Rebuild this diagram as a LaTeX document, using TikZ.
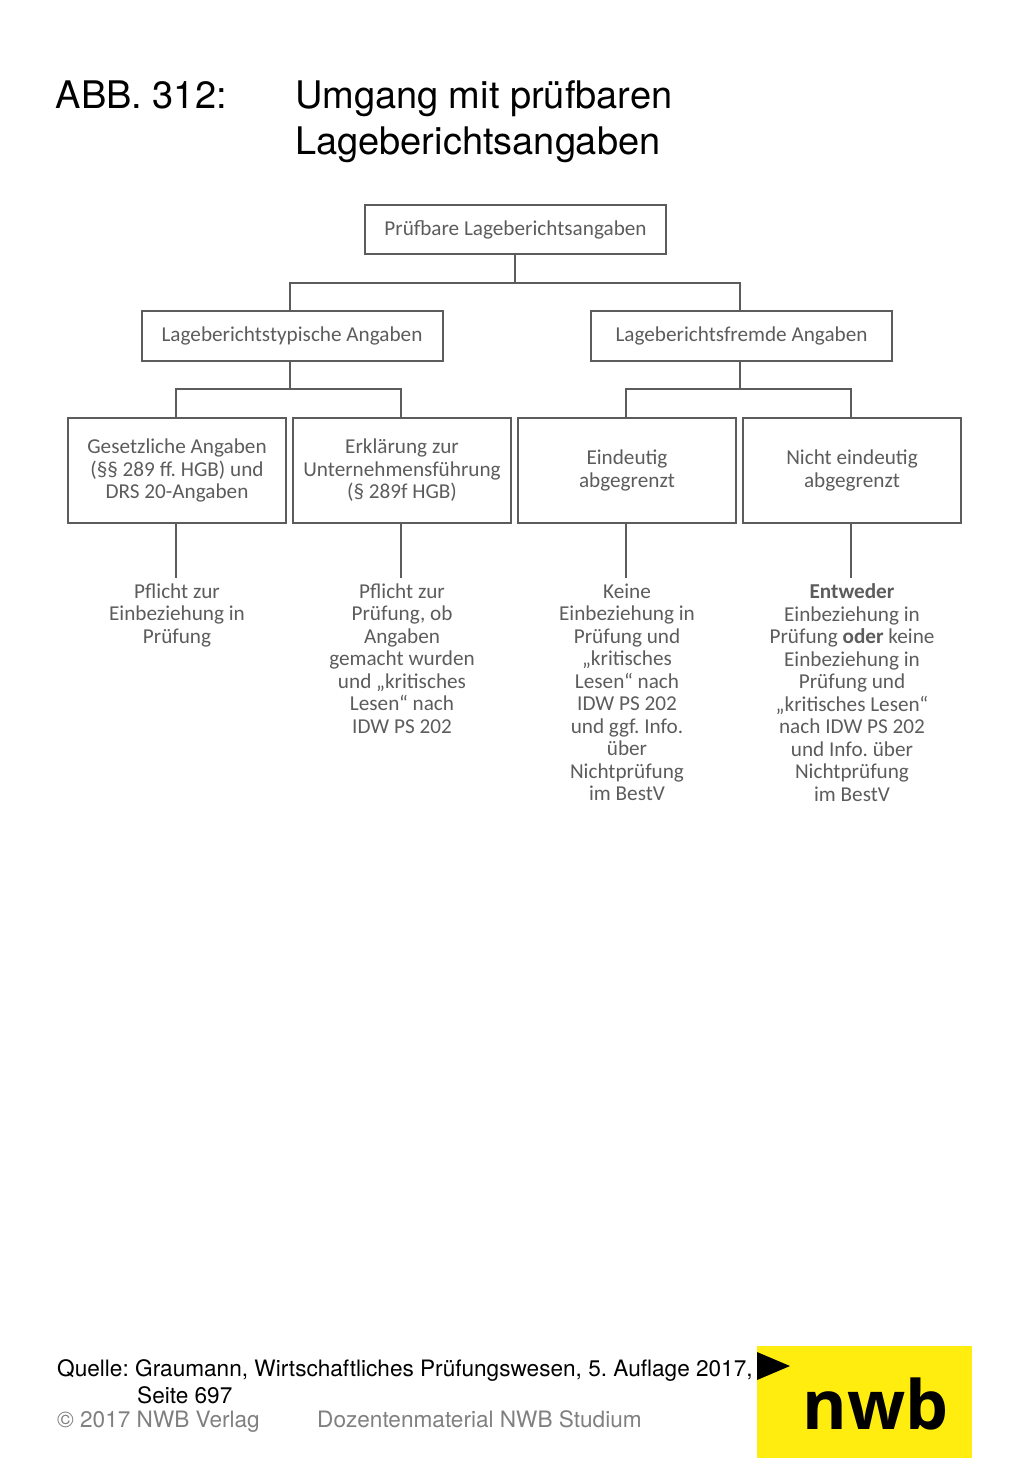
\documentclass[tikz,border=0pt]{standalone}
\usepackage{fontspec}
\usepackage{tikz}
\setmainfont{TeX Gyre Heros}
\newfontfamily\boxfont{Carlito}
\newfontfamily\logofont{Open Sans}
\usetikzlibrary{calc, positioning}
\frenchspacing
\definecolor{nwbyellow}{RGB}{255,237,16}
\definecolor{chartgray}{gray}{0.36}
\tikzset{
	heading/.style={anchor=base west, inner sep=0pt, font=\fontsize{38}{46}\selectfont},
	source/.style={anchor=base west, inner sep=0pt, font=\fontsize{22.6}{27}\selectfont},
	smallbox/.style={draw=chartgray, line width=2pt, text=chartgray, align=center, inner sep=0pt,
		minimum height=49.5, minimum width=301, font=\boxfont\fontsize{21.2}{22.5}\selectfont},
	bigbox/.style={smallbox, minimum height=105, minimum width=218},
	note/.style={text=chartgray, align=center, inner sep=0pt, anchor=north,
		font=\boxfont\fontsize{21.2}{22.5}\selectfont},
	link/.style={draw=chartgray, line width=2pt}
}
\begin{document}
\begin{tikzpicture}[x=1pt,y=-1pt]

		\useasboundingbox (0,0) rectangle (1024,1479);

		%heading
		\node[heading] (abb) at (55.5,109) {ABB. 312:};
		\node[heading] (title) at (295,109) {Umgang mit prüfbaren};
		\node[heading] (titlesecond) at (295,155) {Lageberichtsangaben};

		%boxes of the tree
		\node[smallbox] (root) at (515.5,229.5) {Prüfbare Lageberichtsangaben};
		\node[smallbox] (typical) at (292,336) {Lageberichtstypische Angaben};
		\node[smallbox] (foreign) at (741.5,336) {Lageberichtsfremde Angaben};

		\node[bigbox] (legal) at (177,470.5) {Gesetzliche Angaben\\(§§ 289 ff. HGB) und\\DRS 20-Angaben};
		\node[bigbox] (declaration) at (402,470.5) {Erklärung zur\\Unternehmensführung\\(§ 289f HGB)};
		\node[bigbox] (clear) at (627,470.5) {Eindeutig\\abgegrenzt};
		\node[bigbox] (unclear) at (852,470.5) {Nicht eindeutig\\abgegrenzt};

		%texts below the boxes
		\node[note] (legalnote) at (177,583.5) {Pflicht zur\\Einbeziehung in\\Prüfung};
		\node[note] (declarationnote) at (402,583.5) {Pflicht zur\\Prüfung, ob\\Angaben\\gemacht wurden\\und „kritisches\\Lesen“ nach\\IDW PS 202};
		\node[note] (clearnote) at (627,583.5) {Keine\\Einbeziehung in\\Prüfung und\\„kritisches\\Lesen“ nach\\IDW PS 202\\und ggf. Info.\\über\\Nichtprüfung\\im BestV};
		\node[note] (unclearnote) at (852,583.5) {\textbf{Entweder}\\Einbeziehung in\\Prüfung \textbf{oder} keine\\Einbeziehung in\\Prüfung und\\„kritisches Lesen“\\nach IDW PS 202\\und Info. über\\Nichtprüfung\\im BestV};

		%connectors
		\draw[link] ([xshift=-1]root.south) |- ($(root.south)!0.5!(root.south |- typical.north)$) -| ([xshift=-2.5]typical.north);
		\draw[link] ([xshift=-1]root.south) |- ($(root.south)!0.5!(root.south |- foreign.north)$) -| ([xshift=-2]foreign.north);
		\draw[link] ([xshift=-2.5]typical.south) |- ($(typical.south)!0.5!(typical.south |- legal.north)$) -| ([xshift=-1.5]legal.north);
		\draw[link] ([xshift=-2.5]typical.south) |- ($(typical.south)!0.5!(typical.south |- declaration.north)$) -| ([xshift=-1.5]declaration.north);
		\draw[link] ([xshift=-2]foreign.south) |- ($(foreign.south)!0.5!(foreign.south |- clear.north)$) -| ([xshift=-1.5]clear.north);
		\draw[link] ([xshift=-2]foreign.south) |- ($(foreign.south)!0.5!(foreign.south |- unclear.north)$) -| ([xshift=-1.5]unclear.north);

		\draw[link] ([xshift=-1.5]legal.south) -- ([xshift=-1.5,yshift=6]legalnote.north);
		\draw[link] ([xshift=-1.5]declaration.south) -- ([xshift=-1.5,yshift=6]declarationnote.north);
		\draw[link] ([xshift=-1.5]clear.south) -- ([xshift=-1.5,yshift=6]clearnote.north);
		\draw[link] ([xshift=-1.5]unclear.south) -- ([xshift=-1.5,yshift=6]unclearnote.north);

		%source line
		\node[source] (quelle) at (57,1376) {Quelle:};
		\node[source] (book) at (135,1376) {Graumann, Wirtschaftliches Prüfungswesen, 5. Auflage 2017,};
		\node[source] (page) at (137,1403) {Seite 697};
		\node[source, text=gray] (copyright) at (57,1427) {© 2017 NWB Verlag};
		\node[source, text=gray] (material) at (317,1427) {Dozentenmaterial NWB Studium};

		%logo
		\fill[nwbyellow] (757,1346) rectangle (972,1458);
		\fill[black] (757,1352) -- (790,1366) -- (757,1380) -- cycle;
		\node[anchor=base, inner sep=0pt, font=\logofont\bfseries\fontsize{68}{68}\selectfont] (logo) at (875.5,1429) {nwb};

	\end{tikzpicture}
\end{document}
